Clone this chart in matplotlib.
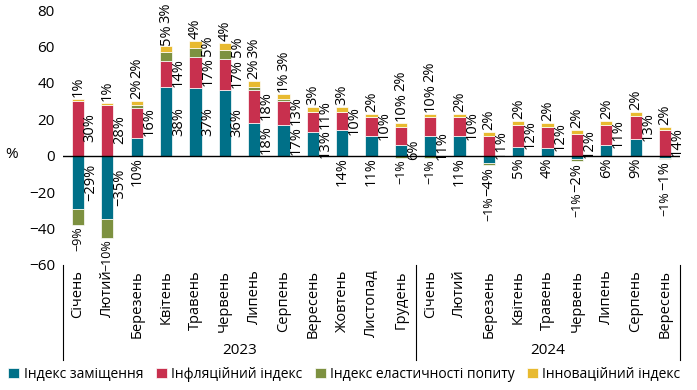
import matplotlib.pyplot as plt
import numpy as np

plt.rcParams["font.family"] = ["Open Sans", "DejaVu Sans"]

months = ["Січень", "Лютий", "Березень", "Квітень", "Травень", "Червень",
          "Липень", "Серпень", "Вересень", "Жовтень", "Листопад", "Грудень",
          "Січень", "Лютий", "Березень", "Квітень", "Травень", "Червень",
          "Липень", "Серпень", "Вересень"]
years = ["2023", "2024"]
year_sizes = [12, 9]

replacement = [-29, -35, 10, 38, 37, 36, 18, 17, 13, 14, 11, 6,
               11, 11, -4, 5, 4, -2, 6, 9, -1]
inflation = [30, 28, 16, 14, 17, 17, 18, 13, 11, 10, 10, 10,
             10, 10, 11, 12, 12, 12, 11, 13, 14]
elasticity = [-9, -10, 2, 5, 5, 5, 2, 1, 0, 0, 0, -1,
              -1, 0, -1, 0, 0, -1, 0, 0, -1]
innovation = [1, 1, 2, 3, 4, 4, 3, 3, 3, 3, 2, 2,
              2, 2, 2, 2, 2, 2, 2, 2, 2]

series_names = ["Індекс заміщення", "Інфляційний індекс",
                "Індекс еластичності попиту", "Інноваційний індекс"]
colors = ["#007088", "#C8304E", "#7D9140", "#E8BA30"]


def pct(v):
    s = f"{abs(v)}%"
    return "\u2212" + s if v < 0 else s


fig = plt.figure(figsize=(6.97, 3.9), dpi=100)
ax = fig.add_axes([63.3 / 697, 1 - 265 / 390, 616.4 / 697, 255 / 390])
ax.set_xlim(-0.5, len(months) - 0.5)
ax.set_ylim(-60, 80)

x = np.arange(len(months))
w = 0.42
pos_base = np.zeros(len(months))
neg_base = np.zeros(len(months))
for vals, col, name in zip([replacement, inflation, elasticity, innovation], colors, series_names):
    vals = np.array(vals, dtype=float)
    base = np.where(vals >= 0, pos_base, neg_base)
    ax.bar(x, vals, w, bottom=base, color=col, edgecolor="white", linewidth=0.5, label=name)
    pos_base += np.where(vals > 0, vals, 0)
    neg_base += np.where(vals < 0, vals, 0)

renderer = fig.canvas.get_renderer()
units_per_px = 140 / 255


def vlabel(xpos, ypos, v, va, size=10.5):
    # rotated label; returns the text and its length in data units
    t = ax.text(xpos, ypos, pct(v), rotation=90, fontsize=size, ha="center", va=va)
    return t, t.get_window_extent(renderer).height * units_per_px


# data labels, placed roughly like in the source chart
dx = 0.42
for i in range(len(months)):
    r, f, e, n = replacement[i], inflation[i], elasticity[i], innovation[i]
    top = max(r, 0) + f + max(e, 0) + n
    bottom = min(r, 0) + min(e, 0)
    up = top + 1
    low = min(bottom, 0) - 1
    side_top = -100  # top of the last label on the right side

    # replacement
    rep_right = (r >= 13 and f >= 11) or r <= -10 or (r > 0 and e < 0)
    if rep_right:
        _, h = vlabel(i + dx, r / 2, r, "center")
        if r > 0:
            side_top = r / 2 + h / 2
    else:
        _, h = vlabel(i, low, r, "top")
        low -= h + 0.5

    # inflation
    if 0 < r < 13 and rep_right:
        _, h = vlabel(i, up, f, "bottom")
        up += h + 0.5
    else:
        yc = max(r, 0) + f / 2 + 0.5
        t, h = vlabel(i + dx, yc, f, "center")
        yc = max(yc, side_top + 0.5 + h / 2)
        t.set_y(yc)
        side_top = yc + h / 2

    # elasticity
    if e > 0 and top > 61:
        vlabel(i + dx, max(side_top + 0.5, r + f + 1), e, "bottom")
    elif e > 0:
        _, h = vlabel(i, up, e, "bottom")
        up += h + 0.5
    elif e < 0:
        vlabel(i, low, e, "top", size=9)

    # innovation
    vlabel(i, up, n, "bottom")

ax.set_yticks(range(-60, 81, 20))
ax.set_yticklabels([pct(v)[:-1] for v in range(-60, 81, 20)], fontsize=11)
ax.tick_params(axis="y", length=0, pad=6)
ax.set_xticks([])
for s in ax.spines.values():
    s.set_visible(False)
ax.axhline(0, color="black", linewidth=1)
fig.text(12 / 697, 1 - 155 / 390, "%", fontsize=11, ha="center", va="center")

# category axis below
for i, m in enumerate(months):
    ax.text(i, -63, m, rotation=90, fontsize=10.5, ha="center", va="top", clip_on=False)
edges = np.cumsum([0] + year_sizes) - 0.5
for xe in edges:
    ax.plot([xe, xe], [-60, -112], color="black", linewidth=0.8, clip_on=False)
for j, yr in enumerate(years):
    ax.text((edges[j] + edges[j + 1]) / 2, -111, yr, fontsize=11, ha="center", va="bottom",
            clip_on=False)

fig.legend(loc="lower left", bbox_to_anchor=(0, 0), ncol=4, frameon=False, fontsize=10,
           handlelength=0.8, handleheight=0.8, handletextpad=0.3, columnspacing=0.9,
           borderaxespad=0.2)

fig.savefig("out.png", dpi=100)
